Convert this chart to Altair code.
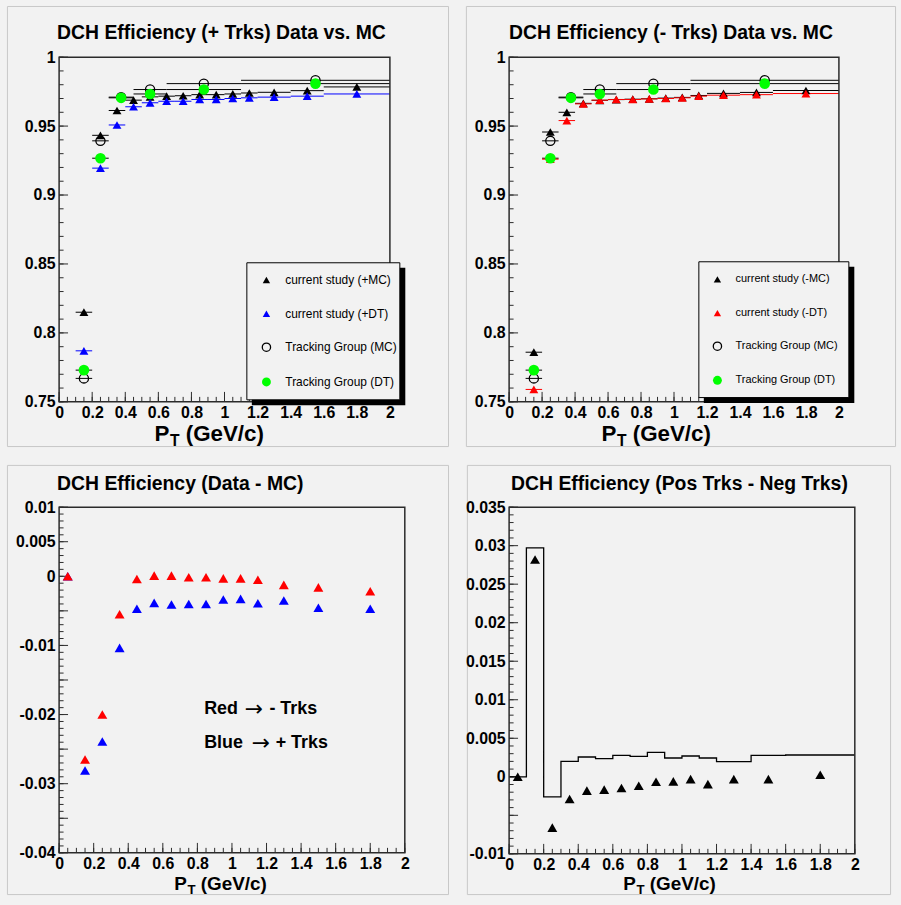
import altair as alt
import pandas as pd

FONT = "Liberation Sans"
BG = "#f2f2f2"
PAD_STROKE = "#c8c8c8"
FRAME = "#2b2b2b"

# ---------------- data ----------------
# current-study bins (centres, low/high edges)
cs_x = [0.15, 0.25, 0.35, 0.45, 0.55, 0.65, 0.75, 0.85, 0.95, 1.05, 1.15, 1.3, 1.5, 1.8]
cs_lo = [0.1, 0.2, 0.3, 0.4, 0.5, 0.6, 0.7, 0.8, 0.9, 1.0, 1.1, 1.2, 1.4, 1.6]
cs_hi = [0.2, 0.3, 0.4, 0.5, 0.6, 0.7, 0.8, 0.9, 1.0, 1.1, 1.2, 1.4, 1.6, 2.0]
pos_mc = [0.815, 0.9433, 0.9613, 0.9688, 0.9712, 0.9717, 0.9720, 0.9728, 0.9728, 0.9733, 0.9740, 0.9745, 0.9757, 0.9784]
pos_dt = [0.787, 0.9195, 0.9508, 0.9640, 0.9669, 0.9680, 0.9680, 0.9693, 0.9693, 0.9700, 0.9705, 0.9710, 0.9717, 0.9733]
neg_mc = [0.786, 0.9457, 0.9600, 0.9665, 0.9687, 0.9692, 0.9695, 0.9698, 0.9703, 0.9708, 0.9722, 0.9737, 0.9744, 0.9758]
neg_dt = [0.759, 0.9260, 0.9540, 0.9661, 0.9688, 0.9693, 0.9693, 0.9697, 0.9700, 0.9705, 0.9717, 0.9724, 0.9728, 0.9736]

# tracking-group bins
tg_x = [0.15, 0.25, 0.375, 0.55, 0.875, 1.55]
tg_lo = [0.1, 0.2, 0.3, 0.45, 0.65, 1.1]
tg_hi = [0.2, 0.3, 0.45, 0.65, 1.1, 2.0]
tg_mc = [0.767, 0.9393, 0.9710, 0.9765, 0.9808, 0.9832]
tg_dt = [0.773, 0.9267, 0.9705, 0.9733, 0.9765, 0.9808]

# Data - MC differences
d_x = [0.05, 0.15, 0.25, 0.35, 0.45, 0.55, 0.65, 0.75, 0.85, 0.95, 1.05, 1.15, 1.3, 1.5, 1.8]
d_neg = [0.0, -0.0265, -0.0200, -0.0055, -0.0004, 0.0001, 0.0001, -0.00015, -0.00015, -0.0003, -0.0003, -0.0005, -0.00125, -0.0016, -0.00216]
d_pos = [0.0, -0.0281, -0.0239, -0.01036, -0.0047, -0.00384, -0.00408, -0.0040, -0.0040, -0.00336, -0.00327, -0.0039, -0.0035, -0.00456, -0.0047]

# Pos - Neg
pn_dt = [0.0, 0.0282, -0.0066, -0.00288, -0.0018, -0.00167, -0.00146, -0.00116, -0.00064, -0.0006, -0.0003, -0.00095, -0.0003, -0.0003, 0.00026]
h_edges = [0.0, 0.1, 0.2, 0.3, 0.4, 0.5, 0.6, 0.7, 0.8, 0.9, 1.0, 1.1, 1.2, 1.4, 1.6, 2.0]
h_vals = [0.0, 0.0297, -0.0026, 0.0020, 0.00257, 0.00235, 0.00278, 0.00265, 0.00316, 0.00244, 0.0027, 0.00244, 0.00197, 0.00278, 0.00283]

# axis labels / ticks
x_labels = [0, 0.2, 0.4, 0.6, 0.8, 1, 1.2, 1.4, 1.6, 1.8, 2]
x_minor = [round(i * 0.05, 2) for i in range(41)]
tl_ylabels = [0.75, 0.8, 0.85, 0.9, 0.95, 1]
tl_yminor = [round(0.75 + i * 0.01, 2) for i in range(26)]
bl_ylabels = [-0.04, -0.03, -0.02, -0.01, 0, 0.005, 0.01]
bl_ymajor = [round(-0.04 + i * 0.005, 3) for i in range(11)]
bl_yminor = [round(-0.04 + i * 0.001, 3) for i in range(51)]
br_ylabels = [-0.01, 0, 0.005, 0.01, 0.015, 0.02, 0.025, 0.03, 0.035]
br_ymajor = [round(-0.01 + i * 0.005, 3) for i in range(10)]
br_yminor = [round(-0.01 + i * 0.001, 3) for i in range(46)]

legend_plus = ["current study (+MC)", "current study (+DT)", "Tracking Group (MC)", "Tracking Group (DT)"]
legend_minus = ["current study (-MC)", "current study (-DT)", "Tracking Group (MC)", "Tracking Group (DT)"]

LABEL_SIZE = 16
TITLE_SIZE = 19.5


# ---------------- helpers ----------------
def one():
    return pd.DataFrame({"k": [0]})


def rect(x, x2, y, y2, **kw):
    return alt.Chart(one()).mark_rect(**kw).encode(
        x=alt.value(x), x2=alt.value(x2), y=alt.value(y), y2=alt.value(y2))


def text(s, x, y, size, weight="bold", align="left", baseline="middle", font=FONT):
    return alt.Chart(pd.DataFrame({"t": [s]})).mark_text(
        font=font, fontSize=size, fontWeight=weight, align=align,
        baseline=baseline, color="black").encode(
        x=alt.value(x), y=alt.value(y), text="t:N")


def marker_props(kind, color, size):
    if kind == "tri":
        return dict(shape="triangle-up", filled=True, color=color, size=size, opacity=1, strokeWidth=0)
    if kind == "open":
        return dict(shape="circle", filled=False, color=color, size=size, opacity=1, strokeWidth=1.3)
    return dict(shape="circle", filled=True, color=color, size=size, opacity=1, strokeWidth=0)


def xaxis():
    return alt.Axis(values=x_labels, labelExpr="'' + datum.value", ticks=False, tickSize=0,
                    domain=False, grid=False, title=None, labelFont=FONT, labelFontSize=LABEL_SIZE,
                    labelFontWeight="bold", labelColor="black", labelPadding=3,
                    labelFlush=False, labelOverlap=False, zindex=1)


def yaxis(vals):
    return alt.Axis(values=vals, labelExpr="'' + datum.value", ticks=False, tickSize=0,
                    domain=False, grid=False, title=None, labelFont=FONT, labelFontSize=LABEL_SIZE,
                    labelFontWeight="bold", labelColor="black", labelPadding=4,
                    labelFlush=False, labelOverlap=False, zindex=1)


class Panel:
    def __init__(self, xs, ys, ylabels):
        self.xs, self.ys, self.ylabels = xs, ys, ylabels

    def X(self, f):
        return alt.X(f, scale=self.xs, axis=xaxis())

    def Y(self, f):
        return alt.Y(f, scale=self.ys, axis=yaxis(self.ylabels))

    def xticks(self, vals, H, L):
        return alt.Chart(pd.DataFrame({"tv": vals})).mark_rule(color=FRAME, strokeWidth=1).encode(
            x=self.X("tv:Q"), y=alt.value(H), y2=alt.value(H - L))

    def yticks(self, vals, L):
        return alt.Chart(pd.DataFrame({"tv": vals})).mark_rule(color=FRAME, strokeWidth=1).encode(
            y=self.Y("tv:Q"), x=alt.value(0), x2=alt.value(L))

    def bars(self, lo, hi, v, color):
        df = pd.DataFrame({"lo": lo, "hi": hi, "v": v})
        return alt.Chart(df).mark_rule(color=color, strokeWidth=1).encode(
            x=self.X("lo:Q"), x2="hi:Q", y=self.Y("v:Q"))

    def pts(self, xv, v, kind, color, size):
        df = pd.DataFrame({"x": xv, "v": v})
        return alt.Chart(df).mark_point(**marker_props(kind, color, size)).encode(
            x=self.X("x:Q"), y=self.Y("v:Q"))


def ptitle(x0, y0, size):
    sub = size * 0.7
    xT = x0 + 0.667 * size + 0.5
    xG = xT + 0.611 * sub + 0.28 * size
    return [text("P", x0, y0, size, baseline="alphabetic"),
            text("T", xT, y0 + 0.22 * size, sub, baseline="alphabetic"),
            text("(GeV/c)", xG, y0, size, baseline="alphabetic")]


def legend_layers(bx, by, bx2, by2, labels, kinds, colors, mx, tx, rows, fs, msizes):
    out = [rect(bx + 5, bx2 + 5.5, by + 5, by2 + 5.5, fill="black"),
           rect(bx, bx2, by, by2, fill=BG, stroke="black", strokeWidth=1)]
    for lab, kind, col, ry, ms in zip(labels, kinds, colors, rows, msizes):
        out.append(alt.Chart(one()).mark_point(**marker_props(kind, col, ms)).encode(
            x=alt.value(mx), y=alt.value(ry)))
        out.append(text(lab, tx, ry, fs, weight="normal"))
    return out


# ---------------- top panels ----------------
def top_panel(W, VW, H, mc, dt, dtcol, title, title_x, pt_x, pad, leg, labels, legfs):
    p = Panel(alt.Scale(domain=[0, 2], range=[0, W], nice=False, zero=False),
              alt.Scale(domain=[0.75, 1.0], nice=False, zero=False), tl_ylabels)
    layers = [rect(pad[0], pad[1], pad[2], pad[3], fill=BG, stroke=PAD_STROKE, strokeWidth=1)]
    layers += [
        p.xticks(x_minor, H, 5), p.xticks(x_labels, H, 10),
        p.yticks(tl_yminor, 4.5), p.yticks(tl_ylabels, 9),
        p.bars(tg_lo, tg_hi, tg_mc, "black"),
        p.bars(tg_lo, tg_hi, tg_dt, "black"),
        p.bars(cs_lo, cs_hi, mc, "black"),
        p.bars(cs_lo, cs_hi, dt, dtcol),
        p.pts(tg_x, tg_mc, "open", "black", 85),
        p.pts(cs_x, mc, "tri", "black", 80),
        p.pts(cs_x, dt, "tri", dtcol, 80),
        p.pts(tg_x, tg_dt, "dot", "#00ff00", 115),
        rect(0, W, 0, H, fillOpacity=0, stroke=FRAME, strokeWidth=1.5),
        text(title, title_x, -24, TITLE_SIZE),
    ]
    layers += ptitle(pt_x, 386, 22.5)
    bx, by, bx2, by2, mx, tx, rows = leg
    layers += legend_layers(bx, by, bx2, by2, labels, ["tri", "tri", "open", "dot"],
                            ["black", dtcol, "black", "#00ff00"], mx, tx, rows, legfs, [55, 55, 70, 80])
    return alt.layer(*layers).properties(width=VW, height=H)


tl = top_panel(333, 343, 347, pos_mc, pos_dt, "#0000ff",
               "DCH Efficiency (+ Trks) Data vs. MC", -2, 96, (-52, 392, -51, 392),
               (189, 207, 343, 345, 208.7, 227.7, [224.3, 258.3, 292, 327]), legend_plus, 12)
tr = top_panel(332, 332, 347, neg_mc, neg_dt, "#ff0000",
               "DCH Efficiency (- Trks) Data vs. MC", 0, 93, (-43, 389, -51, 392),
               (191, 206, 342, 342.7, 209.7, 228, [223.7, 257.7, 291, 325.3]), legend_minus, 11)

# ---------------- bottom-left ----------------
W, H = 348, 348
p = Panel(alt.Scale(domain=[0, 2], range=[0, W], nice=False, zero=False),
          alt.Scale(domain=[-0.04, 0.01], nice=False, zero=False), bl_ylabels)
bl_layers = [
    rect(-52, 392, -42, 390, fill=BG, stroke=PAD_STROKE, strokeWidth=1),
    p.xticks(x_minor, H, 5), p.xticks(x_labels, H, 10),
    p.yticks(bl_yminor, 4.5), p.yticks(bl_ymajor, 9),
    p.pts(d_x, d_pos, "tri", "#0000ff", 100),
    p.pts(d_x, d_neg, "tri", "#ff0000", 100),
    rect(0, W, 0, H, fillOpacity=0, stroke=FRAME, strokeWidth=1.5),
    text("DCH Efficiency (Data - MC)", -2, -23, TITLE_SIZE),
    text("Red", 146, 203, 18), text("\u2192", 187, 203, 22, weight="normal", font="DejaVu Sans"),
    text("- Trks", 211.7, 203, 18),
    text("Blue", 146, 237, 18), text("\u2192", 194, 237, 22, weight="normal", font="DejaVu Sans"),
    text("+ Trks", 218, 237, 18),
] + ptitle(116, 385, 19)
bl = alt.layer(*bl_layers).properties(width=W, height=H)

# ---------------- bottom-right ----------------
W, H = 348, 349
p = Panel(alt.Scale(domain=[0, 2], range=[0, W], nice=False, zero=False),
          alt.Scale(domain=[-0.01, 0.035], nice=False, zero=False), br_ylabels)
hist_df = pd.DataFrame({"x": h_edges, "v": h_vals + [h_vals[-1]]})
br_layers = [
    rect(-42, 384, -42, 390, fill=BG, stroke=PAD_STROKE, strokeWidth=1),
    p.xticks(x_minor, H, 5), p.xticks(x_labels, H, 10),
    p.yticks(br_yminor, 4.5), p.yticks(br_ymajor, 9),
    alt.Chart(hist_df).mark_line(interpolate="step-after", color="black", strokeWidth=1.3).encode(
        x=p.X("x:Q"), y=p.Y("v:Q")),
    p.pts(d_x, pn_dt, "tri", "black", 100),
    rect(0, W, 0, H, fillOpacity=0, stroke=FRAME, strokeWidth=1.5),
    text("DCH Efficiency (Pos Trks - Neg Trks)", 2, -23, TITLE_SIZE),
] + ptitle(115, 385, 19)
br = alt.layer(*br_layers).properties(width=W, height=H)

chart = alt.concat(tl, tr, bl, br, columns=2, spacing={"row": 106, "column": 105},
                   align="none", bounds="flush").properties(
    padding={"left": 6.5, "top": 2.5, "right": 4.5, "bottom": 7.5},
    background=BG,
).configure_view(strokeWidth=0)

chart.save("out.html", embed_options={"renderer": "svg", "actions": False})
